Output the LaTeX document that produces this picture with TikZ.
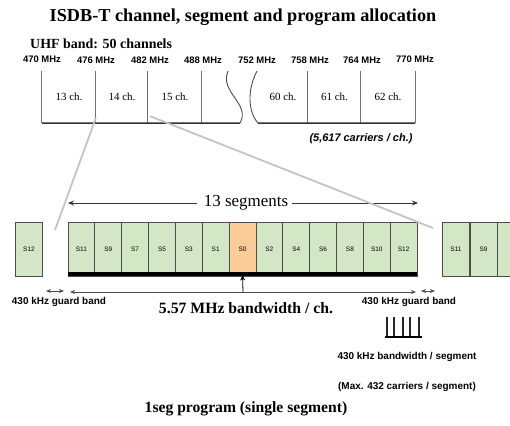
\documentclass[tikz,border=0pt]{standalone}
\usepackage{fontspec}
\setmainfont{Liberation Serif}
\setsansfont{Liberation Sans}
\usetikzlibrary{arrows.meta}
\definecolor{seggreen}{HTML}{D3E7C6}
\definecolor{segorange}{HTML}{FBCB98}
\definecolor{guide}{HTML}{C4C4C4}
\begin{document}
\begin{tikzpicture}[x=1bp,y=-1bp,
  segbox/.style={draw=black!70, fill=seggreen, minimum width=26.85bp, minimum height=54bp,
    inner sep=0pt, line width=0.8bp, font=\sffamily\fontsize{6.5}{7}\selectfont},
  chcell/.style={minimum width=#1, minimum height=52bp, inner sep=0pt,
    font=\fontsize{11}{12}\selectfont},
  freqlbl/.style={font=\sffamily\bfseries\fontsize{9.5}{10}\selectfont, inner sep=0pt},
  smalllbl/.style={font=\sffamily\bfseries\fontsize{10}{11}\selectfont, inner sep=0pt},
  celledge/.style={draw=black!55, line width=0.9bp},
  basebar/.style={draw=black!80, line width=1.5bp},
  guideline/.style={draw=guide, line width=1.8bp},
  dimarrow/.style={draw=black!70, line width=0.8bp, {Stealth[length=5bp,width=4bp]}-{Stealth[length=5bp,width=4bp]}},
  onearrow/.style={draw=black!80, line width=0.9bp, -{Stealth[length=6bp,width=5bp]}}
]
\useasboundingbox (0,0) rectangle (510,425);

% titles
\node[font=\bfseries\fontsize{18.3}{20}\selectfont, inner sep=0pt] (title) at (243,17) {ISDB-T channel, segment and program allocation};
\node[font=\bfseries\fontsize{14}{15}\selectfont, inner sep=0pt, anchor=west] (uhf) at (30,44) {UHF band: 50 channels};

% frequency labels
\node[freqlbl] (f470) at (42,59) {470 MHz};
\node[freqlbl] (f476) at (96,60) {476 MHz};
\node[freqlbl] (f482) at (150,60) {482 MHz};
\node[freqlbl] (f488) at (203,60) {488 MHz};
\node[freqlbl] (f752) at (257,60) {752 MHz};
\node[freqlbl] (f758) at (310,60) {758 MHz};
\node[freqlbl] (f764) at (362,60) {764 MHz};
\node[freqlbl] (f770) at (415,59) {770 MHz};

% channel cells
\node[chcell=54bp] (c13) at (69,97) {13 ch.};
\node[chcell=52bp] (c14) at (122,97) {14 ch.};
\node[chcell=54bp] (c15) at (175,97) {15 ch.};
\node[chcell=38bp] (cgap) at (221,97) {};
\node[chcell=50bp] (c60) at (283,97) {60 ch.};
\node[chcell=53bp] (c61) at (334.5,97) {61 ch.};
\node[chcell=54bp] (c62) at (388,97) {62 ch.};

\foreach \c in {c13,c14,c15,cgap}{\draw[celledge] (\c.north west) -- (\c.south west);}
\foreach \c in {c61,c62}{\draw[celledge] (\c.north west) -- (\c.south west);}
\draw[celledge] (c62.north east) -- (c62.south east);
\draw[basebar] (c13.south west) -- (240,123);
\draw[basebar] (258,123) -- (c62.south east);
\draw[draw=black!70, line width=0.9bp] (228,71) .. controls (219,92) and (251,104) .. (240,123);
\draw[draw=black!70, line width=0.9bp] (257,71) .. controls (247,90) and (248,112) .. (258,123);

\node[font=\sffamily\bfseries\itshape\fontsize{11}{12}\selectfont, inner sep=0pt] (carr) at (361,139) {(5,617 carriers / ch.)};

% segments
\node[font=\fontsize{17}{18}\selectfont, inner sep=0pt] (seglbl) at (246,203) {13 segments};
\coordinate (segL) at (68,203);
\coordinate (segR) at (418,203);
\draw[onearrow] ([xshift=-7bp]seglbl.west) -- (segL);
\draw[onearrow] ([xshift=4bp]seglbl.east) -- (segR);

\foreach \lab [count=\i] in {S11,S9,S7,S5,S3,S1,S0,S2,S4,S6,S8,S10,S12}{
  \node[segbox] (seg\i) at ({68+(\i-0.5)*26.85},249) {\lab};
}
\node[segbox, fill=segorange] at (seg7) {S0};
\draw[draw=black, line width=4bp] ([yshift=2bp]seg1.south west) -- ([yshift=2bp]seg13.south east);

\node[segbox] (lS12) at (29,249.5) {S12};
\node[segbox] (rS11) at (456,249.5) {S11};
\node[segbox] (rS9) at (483.5,249.5) {S9};
\node[segbox] (rS7) at (511,249.5) {};

% guide lines from channel 14 to segments
\coordinate (gA) at (55,230);
\coordinate (gB) at (433,228);
\draw[guideline] ([yshift=5bp]c14.south west) -- (gA);
\draw[guideline] ([xshift=2bp,yshift=7bp]c14.south east) -- (gB);

% bandwidth arrows
\coordinate (bwL) at (70,292);
\coordinate (bwR) at (416,292);
\draw[dimarrow] (bwL) -- (bwR);
\coordinate (gl1) at (46,291);
\coordinate (gl2) at (64,291);
\draw[dimarrow] (gl1) -- (gl2);
\coordinate (gr1) at (421,291);
\coordinate (gr2) at (435,291);
\draw[dimarrow] (gr1) -- (gr2);

\node[smalllbl] (gbl) at (59,302) {430 kHz guard band};
\node[smalllbl] (gbr) at (409,302) {430 kHz guard band};
\node[font=\bfseries\fontsize{15.8}{16}\selectfont, inner sep=0pt] (bw) at (246,308) {5.57 MHz bandwidth / ch.};

\coordinate (upA) at (243,292);
\draw[draw=black, line width=0.8bp, -{Stealth[length=5bp,width=5bp]}] (upA) -- ([yshift=1bp]seg7.south);

% spectrum icon
\foreach \xx in {387,394,403,410,419}{\draw[draw=black!85, line width=1.3bp] (\xx,317) -- (\xx,336);}
\draw[draw=black, line width=2.5bp] (385,337) -- (422,337);

\node[smalllbl] (segbw) at (407,357) {430 kHz bandwidth / segment};
\node[smalllbl] (maxc) at (407,387) {(Max. 432 carriers / segment)};
\node[font=\bfseries\fontsize{15.7}{16}\selectfont, inner sep=0pt] (oneseg) at (246,409) {1seg program (single segment)};
\end{tikzpicture}
\end{document}
